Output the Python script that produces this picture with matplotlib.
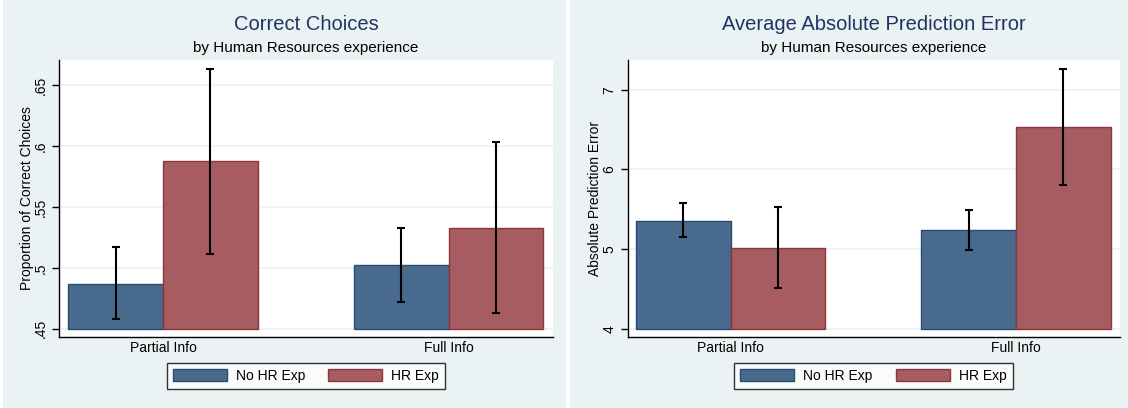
import numpy as np
import matplotlib
matplotlib.use('Agg')
import matplotlib.pyplot as plt
from matplotlib.patches import Rectangle

plt.rcParams['font.family'] = ['Liberation Sans', 'DejaVu Sans']

groups = ['Partial Info', 'Full Info']
series = ['No HR Exp', 'HR Exp']

# correct choices: means and CI bounds
cc_mean = {'No HR Exp': [0.487, 0.502], 'HR Exp': [0.5875, 0.533]}
cc_lo = {'No HR Exp': [0.4577, 0.4719], 'HR Exp': [0.5117, 0.4629]}
cc_hi = {'No HR Exp': [0.5172, 0.5329], 'HR Exp': [0.6634, 0.6036]}
cc_ticks = [0.45, 0.5, 0.55, 0.6, 0.65]
cc_ticklabels = ['.45', '.5', '.55', '.6', '.65']

# absolute prediction error
ape_mean = {'No HR Exp': [5.357, 5.236], 'HR Exp': [5.014, 6.526]}
ape_lo = {'No HR Exp': [5.144, 4.993], 'HR Exp': [4.507, 5.806]}
ape_hi = {'No HR Exp': [5.579, 5.483], 'HR Exp': [5.525, 7.259]}
ape_ticks = [4, 5, 6, 7]
ape_ticklabels = ['4', '5', '6', '7']

bg = '#EAF2F3'
fill = {'No HR Exp': '#486A8C', 'HR Exp': '#A65C60'}
edge = {'No HR Exp': '#2A4C70', 'HR Exp': '#8E353B'}
title_col = '#1E3560'

W, H = 1128, 408
fig = plt.figure(figsize=(W / 100, H / 100), dpi=100, facecolor='white')
fig.patches.append(Rectangle((3 / W, 0), (566 - 3) / W, 1, transform=fig.transFigure,
                             facecolor=bg, edgecolor='none', zorder=-10))
fig.patches.append(Rectangle((570 / W, 0), (W - 570) / W, 1, transform=fig.transFigure,
                             facecolor=bg, edgecolor='none', zorder=-10))


def panel(rect, means, lo, hi, base, ylim, ticks, ticklabels, xlim, ylabel, title, legx):
    ax = fig.add_axes(rect)
    ax.set_facecolor('white')
    w = 0.332
    x = np.arange(len(groups))
    for k, s in enumerate(series):
        off = (k - 0.5) * w
        m = np.array(means[s])
        ax.bar(x + off, m - base, bottom=base, width=w, color=fill[s],
               edgecolor=edge[s], linewidth=1, label=s, zorder=2)
        ax.errorbar(x + off, m, yerr=[m - np.array(lo[s]), np.array(hi[s]) - m],
                    fmt='none', ecolor='black', elinewidth=1.5, capsize=3,
                    capthick=1.5, zorder=3)
    ax.set_xlim(xlim)
    ax.set_ylim(ylim)
    ax.set_xticks(x)
    ax.set_xticklabels(groups, fontsize=10)
    ax.tick_params(axis='x', length=0, pad=3)
    ax.set_yticks(ticks)
    ax.set_yticklabels(ticklabels, fontsize=10, rotation=90, va='center')
    ax.tick_params(axis='y', length=5, width=1, pad=3)
    ax.yaxis.grid(True, color=bg, linewidth=1.2)
    ax.set_axisbelow(True)
    for sp in ['top', 'right']:
        ax.spines[sp].set_visible(False)
    for sp in ['left', 'bottom']:
        ax.spines[sp].set_linewidth(1)
    ax.set_ylabel(ylabel, fontsize=10, labelpad=0)
    cx = rect[0] + rect[2] / 2
    fig.text(cx, 1 - 24 / H, title, ha='center', va='center', fontsize=14.5, color=title_col)
    fig.text(cx, 1 - 48 / H, 'by Human Resources experience', ha='center', va='center',
             fontsize=11, color='black')
    leg = ax.legend(loc='center', bbox_to_anchor=(legx, 1 - 376 / H), bbox_transform=fig.transFigure,
                    ncol=2, fontsize=10, frameon=True, fancybox=False, edgecolor='black',
                    handlelength=3.9, handleheight=1.0, columnspacing=1.65, handletextpad=0.65,
                    borderpad=0.45, borderaxespad=0)
    leg.get_frame().set_linewidth(1)
    return ax


panel([59 / W, 71 / H, 494 / W, 277 / H], cc_mean, cc_lo, cc_hi, 0.45,
      (0.4431, 0.6709), cc_ticks, cc_ticklabels, (-0.3645, 1.3657),
      'Proportion of Correct Choices', 'Correct Choices', 306 / W)
panel([627.5 / W, 71 / H, 492.5 / W, 277 / H], ape_mean, ape_lo, ape_hi, 4.0,
      (3.895, 7.372), ape_ticks, ape_ticklabels, (-0.3615, 1.365),
      'Absolute Prediction Error', 'Average Absolute Prediction Error', 873.5 / W)

fig.savefig('out.png', dpi=100, facecolor='white')
